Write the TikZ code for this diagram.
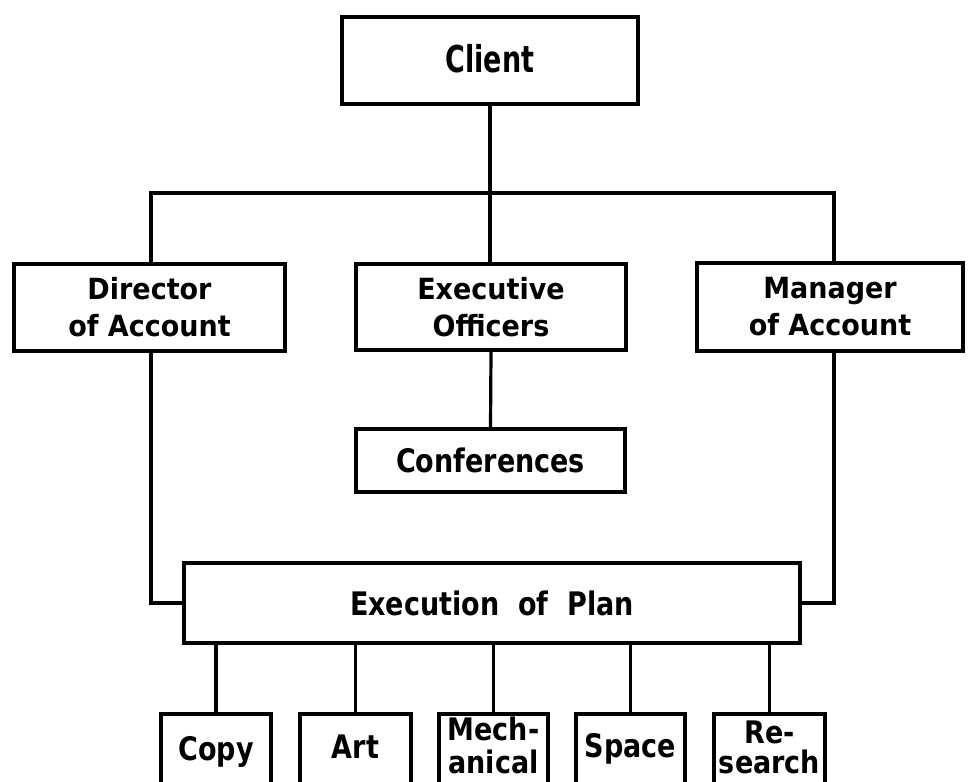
\documentclass[tikz,border=0pt]{standalone}
\usepackage{fontspec}
\setmainfont{DejaVu Sans}
\usepackage{graphicx}
\newcommand{\tallx}[2][1.2]{\scalebox{1}[#1]{#2}}
\begin{document}
\begin{tikzpicture}[x=1pt,y=-1pt,
  box/.style={draw=black, line width=4.2pt, rectangle, inner sep=0pt, align=center,
    font=\fontsize{27}{37}\selectfont\bfseries},
  conn/.style={line width=3.2pt, line cap=rect, line join=miter},
  lbl/.style={inner sep=0pt, anchor=base, font=\fontsize{27}{30}\selectfont\bfseries}]
\clip (0,0) rectangle (968,781);
\fill[white] (0,0) rectangle (968,781);

% main boxes
\node[box, minimum width=296pt, minimum height=87pt] (client) at (490,60.5) {\raisebox{4pt}{\scalebox{1}[1.37]{Client}}};
\node[box, minimum width=271pt, minimum height=87pt] (director) at (149.5,307.5) {\tallx[1.08]{Director}\\\tallx[1.08]{of Account}};
\node[box, minimum width=270pt, minimum height=86pt] (executive) at (491,307) {\tallx[1.08]{Executive}\\\tallx[1.08]{Officers}};
\node[box, minimum width=266pt, minimum height=88pt] (manager) at (830,307) {\tallx[1.08]{Manager}\\\tallx[1.08]{of Account}};
\node[box, minimum width=269pt, minimum height=63pt] (conferences) at (490.5,460.5) {\tallx{Conferences}};
\node[box, minimum width=616pt, minimum height=80pt] (execution) at (492,603) {\tallx{Execution\hspace{0.35em} of\hspace{0.35em} Plan}};

% bottom boxes
\node[box, minimum width=110pt, minimum height=86pt] (copy) at (216,757) {};
\node[box, minimum width=111pt, minimum height=86pt] (art) at (355.5,757) {};
\node[box, minimum width=109pt, minimum height=86pt] (mech) at (493.5,757) {};
\node[box, minimum width=109pt, minimum height=86pt] (space) at (630.5,757) {};
\node[box, minimum width=111pt, minimum height=86pt] (research) at (769.5,757) {};

\node[lbl] (copyt) at (216,760) {\tallx{Copy}};
\node[lbl] (artt) at (355.5,758) {\tallx{Art}};
\node[lbl] (mecht1) at (493.5,740) {\tallx[1.15]{Mech-}};
\node[lbl] (mecht2) at (493.5,773) {\tallx[1.15]{anical}};
\node[lbl] (spacet) at (630.5,757) {\tallx{Space}};
\node[lbl] (rest1) at (769.5,743) {\tallx[1.15]{Re-}};
\node[lbl] (rest2) at (769.5,773) {\tallx[1.15]{search}};

% connectors
\coordinate (hl) at (151,193);
\coordinate (hr) at (834,193);
\draw[conn] (client.south) -- (client.south |- executive.north);
\draw[conn] (director.north -| hl) -- (hl) -- (hr) -- (manager.north -| hr);
\draw[conn] (executive.south) -- (conferences.north);
\draw[conn] (director.south -| hl) |- (execution.west);
\draw[conn] (manager.south -| hr) |- (execution.east);
\foreach \b in {copy,art,mech,space,research}
  \draw[conn] (\b.north) -- (\b.north |- execution.south);
\end{tikzpicture}
\end{document}
